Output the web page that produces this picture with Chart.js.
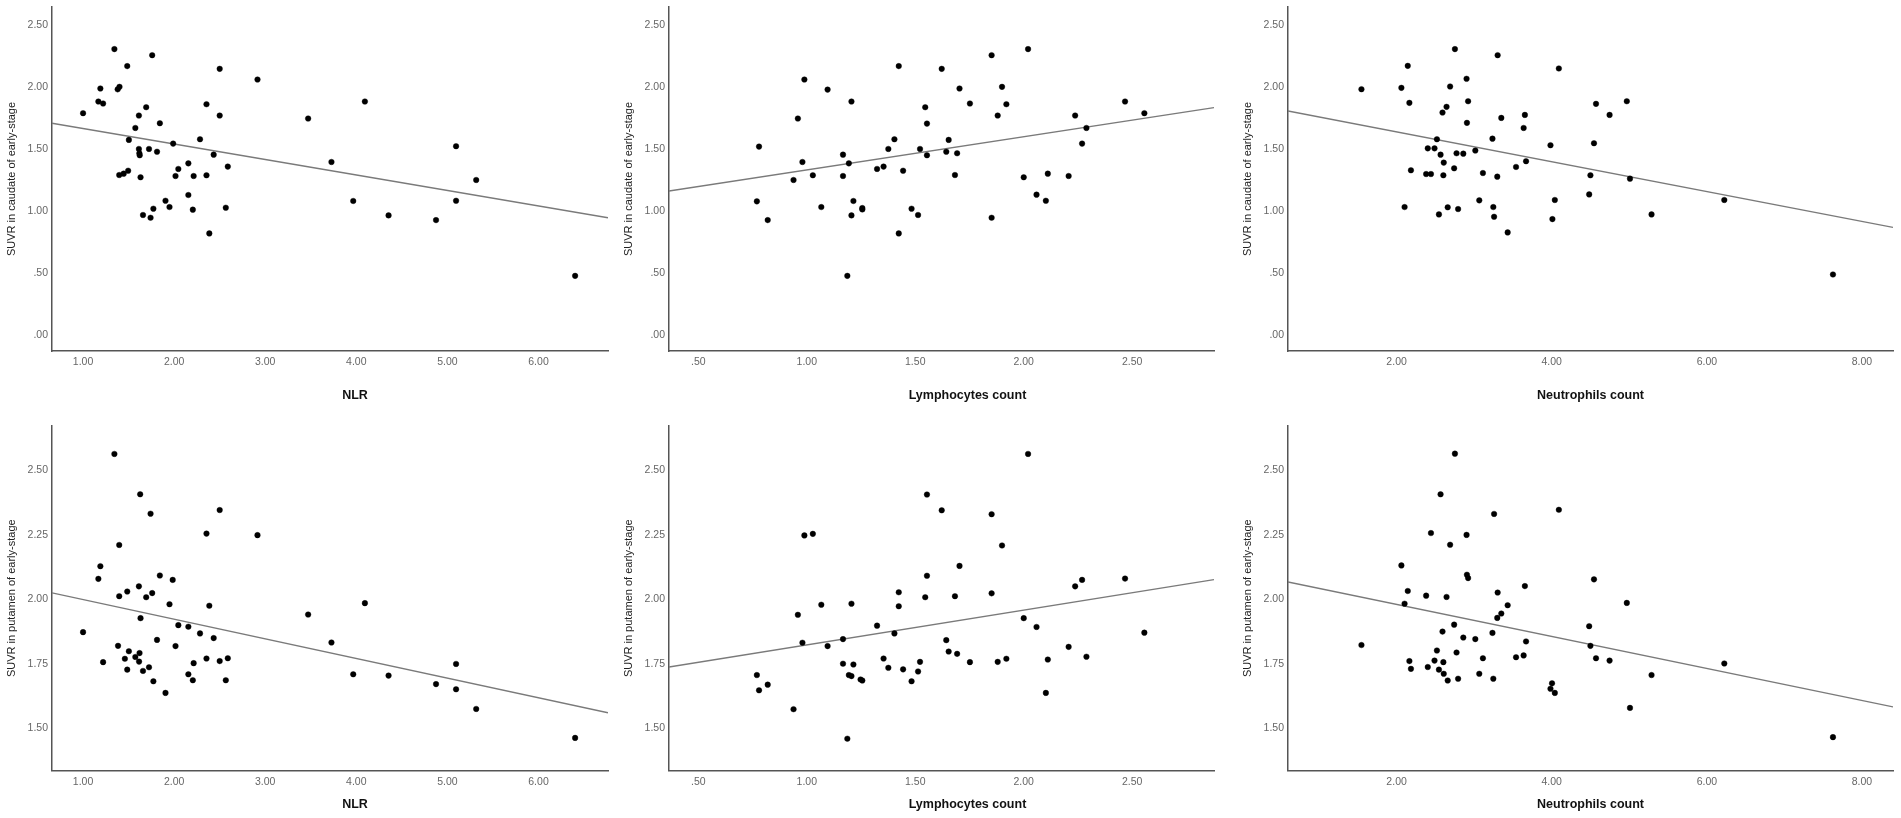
<!DOCTYPE html>
<html>
<head>
<meta charset="utf-8">
<script src="https://cdn.jsdelivr.net/npm/chart.js@4.4.1/dist/chart.umd.min.js"></script>
<style>
html,body{margin:0;padding:0;background:#fff;}
#page{position:relative;width:1901px;height:818px;overflow:hidden;background:#fff;}
.panel{position:absolute;}
.panel canvas{display:block;}
</style>
</head>
<body>
<div id="page"></div>
<script>
// ---------- DATA ----------
const nlrCaudateX = [1.00,1.344,1.759,1.485,2.500,2.915,1.19,1.38,1.40,1.168,1.22,2.355,4.094,1.693,1.613,2.50,3.471,1.843,1.574,1.503,2.284,1.989,1.613,1.724,1.812,1.618,1.622,2.434,5.095,2.156,3.727,2.589,2.046,1.397,1.446,1.495,1.631,2.015,2.214,2.355,5.316,2.156,1.905,3.966,5.095,1.949,1.772,2.205,2.567,1.658,1.741,4.354,4.875,2.386,6.402];
const nlrCaudateY = [1.788,2.304,2.255,2.167,2.145,2.059,1.987,1.98,2.0,1.882,1.866,1.860,1.882,1.836,1.769,1.769,1.745,1.707,1.669,1.573,1.578,1.543,1.500,1.500,1.478,1.465,1.449,1.454,1.522,1.384,1.395,1.358,1.339,1.290,1.301,1.325,1.272,1.282,1.282,1.288,1.250,1.129,1.083,1.081,1.083,1.032,1.019,1.011,1.027,0.968,0.946,0.965,0.927,0.820,0.478];

const lymCaudateX = [0.780,0.770,0.820,0.959,0.989,0.939,0.980,1.028,1.067,1.096,1.167,1.167,1.194,1.206,1.187,1.215,1.206,1.256,1.256,1.324,1.354,1.376,1.404,1.424,1.424,1.444,1.483,1.513,1.522,1.546,1.554,1.554,1.622,1.643,1.654,1.683,1.693,1.704,1.752,1.852,1.852,1.880,1.900,1.920,2.000,2.020,2.059,2.102,2.111,2.207,2.237,2.269,2.289,2.467,2.556];
const lymCaudateY = [1.519,1.078,0.927,1.745,2.059,1.250,1.395,1.288,1.032,1.978,1.454,1.282,1.384,1.882,0.478,1.081,0.965,1.024,1.013,1.339,1.358,1.500,1.578,2.167,0.820,1.325,1.019,0.968,1.500,1.836,1.704,1.449,2.145,1.478,1.573,1.290,1.465,1.987,1.866,2.255,0.946,1.769,2.000,1.860,1.272,2.304,1.132,1.083,1.301,1.282,1.769,1.543,1.669,1.882,1.788];

const neuCaudateX = [1.547,2.062,2.144,2.165,2.103,2.185,2.381,2.443,2.402,2.489,2.520,2.567,2.546,2.592,2.608,2.603,2.644,2.659,2.690,2.742,2.752,2.773,2.793,2.860,2.902,2.907,2.922,3.015,3.066,3.113,3.236,3.247,3.257,3.298,3.303,3.350,3.432,3.540,3.638,3.654,3.669,3.984,4.009,4.040,4.092,4.483,4.499,4.545,4.571,4.746,4.968,5.009,5.287,6.225,7.626];
const neuCaudateY = [1.981,1.992,2.169,1.871,1.032,1.328,1.298,1.298,1.505,1.505,1.578,1.454,0.973,1.793,1.390,1.288,1.839,1.030,2.003,1.344,2.304,1.465,1.016,1.462,2.065,1.710,1.884,1.487,1.086,1.306,1.583,1.032,0.954,1.277,2.255,1.750,0.828,1.355,1.669,1.774,1.401,1.530,0.935,1.089,2.148,1.134,1.288,1.546,1.863,1.774,1.884,1.261,0.973,1.089,0.489];

const nlrPutamenX = [1.00,1.344,1.168,1.19,1.22,1.397,1.384,1.397,1.459,1.485,1.503,1.485,1.574,1.613,1.627,1.62,1.615,1.631,1.658,1.693,1.724,1.741,1.759,1.772,1.812,1.843,1.905,1.949,1.984,2.015,2.046,2.156,2.156,2.205,2.214,2.284,2.355,2.355,2.386,2.434,2.500,2.500,2.567,2.589,2.915,3.471,3.727,3.966,4.094,4.354,4.875,5.095,5.095,5.316,6.402];
const nlrPutamenY = [1.873,2.562,2.079,2.128,1.757,2.210,1.820,2.012,1.770,2.030,1.799,1.728,1.777,2.050,2.406,1.792,1.759,1.927,1.723,2.008,1.737,2.331,2.024,1.683,1.843,2.092,1.638,1.981,2.075,1.819,1.900,1.894,1.710,1.687,1.753,1.868,2.254,1.771,1.975,1.850,2.345,1.761,1.687,1.772,2.248,1.941,1.833,1.710,1.985,1.705,1.672,1.750,1.652,1.576,1.464];

const lymPutamenX = [0.770,0.780,0.820,0.939,0.959,0.980,0.989,1.028,1.067,1.096,1.167,1.167,1.194,1.206,1.187,1.215,1.206,1.256,1.248,1.324,1.354,1.376,1.404,1.424,1.424,1.444,1.483,1.513,1.522,1.546,1.554,1.554,1.622,1.643,1.654,1.683,1.693,1.704,1.752,1.852,1.852,1.880,1.900,1.920,2.000,2.020,2.059,2.102,2.111,2.207,2.237,2.269,2.289,2.467,2.556];
const lymPutamenY = [1.707,1.648,1.670,1.575,1.940,1.832,2.247,2.253,1.979,1.819,1.846,1.751,1.707,1.983,1.461,1.748,1.703,1.686,1.690,1.898,1.771,1.735,1.868,2.027,1.973,1.729,1.683,1.721,1.758,2.008,2.405,2.091,2.344,1.842,1.798,2.012,1.789,2.129,1.757,2.329,2.023,1.758,2.208,1.770,1.927,2.562,1.893,1.638,1.767,1.816,2.050,2.075,1.778,2.080,1.871];

const neuPutamenX = [1.547,2.062,2.103,2.144,2.165,2.185,2.381,2.402,2.443,2.489,2.520,2.546,2.567,2.592,2.603,2.608,2.644,2.659,2.690,2.742,2.752,2.773,2.793,2.860,2.902,2.907,2.922,3.015,3.066,3.113,3.236,3.247,3.257,3.298,3.303,3.350,3.432,3.540,3.638,3.654,3.669,3.984,4.004,4.040,4.092,4.483,4.499,4.545,4.571,4.746,4.968,5.009,5.287,6.225,7.626];
const neuPutamenY = [1.823,2.131,1.983,2.032,1.761,1.731,2.014,1.738,2.256,1.763,1.802,1.728,2.406,1.875,1.757,1.712,2.009,1.686,2.211,1.902,2.563,1.794,1.693,1.852,2.249,2.095,2.082,1.846,1.712,1.772,1.870,1.693,2.330,1.928,2.026,1.945,1.977,1.776,1.783,2.051,1.837,1.654,1.675,1.638,2.346,1.896,1.820,2.077,1.772,1.763,1.986,1.580,1.707,1.752,1.467];

// fit line values (y at the left and right ends of each x axis)
const fitNlrCaudate = [1.707, 0.946];
const fitLymCaudate = [1.161, 1.833];
const fitNeuCaudate = [1.806, 0.868];
const fitNlrPutamen = [2.025, 1.561];
const fitLymPutamen = [1.738, 2.076];
const fitNeuPutamen = [2.067, 1.584];

// axis ranges
const xRangeNlr = [0.659, 6.763];
const xRangeLym = [0.365, 2.877];
const xRangeNeu = [0.60, 8.40];
const yRangeCaudate = [-0.127, 2.643];
const yRangePutamen = [1.338, 2.670];

// tick values
const nlrTicks = [1, 2, 3, 4, 5, 6];
const lymTicks = [0.5, 1, 1.5, 2, 2.5];
const neuTicks = [2, 4, 6, 8];
const caudateTicks = [0, 0.5, 1, 1.5, 2, 2.5];
const putamenTicks = [1.5, 1.75, 2, 2.25, 2.5];

// titles
const xTitleNlr = 'NLR';
const xTitleLym = 'Lymphocytes count';
const xTitleNeu = 'Neutrophils count';
const yTitleCaudate = 'SUVR in caudate of early-stage';
const yTitlePutamen = 'SUVR in putamen of early-stage';

// ---------- LAYOUT ----------
const ROW_H = 409;
const rows = [
  {top: 0, plotTop: 7, plotBottom: 351},
  {top: 409, plotTop: 426, plotBottom: 770.5}
];
const cols = [
  {axL: 52, axR: 608, wy: 52, titleShift: 25},
  {axL: 669, axR: 1214, wy: 52, titleShift: 26},
  {axL: 1288, axR: 1893, wy: 62, titleShift: 0}
];

const panels = [
  {r:0,c:0,xs:nlrCaudateX,ys:nlrCaudateY,fit:fitNlrCaudate,xr:xRangeNlr,yr:yRangeCaudate,xt:nlrTicks,yt:caudateTicks,xTitle:xTitleNlr,yTitle:yTitleCaudate},
  {r:0,c:1,xs:lymCaudateX,ys:lymCaudateY,fit:fitLymCaudate,xr:xRangeLym,yr:yRangeCaudate,xt:lymTicks,yt:caudateTicks,xTitle:xTitleLym,yTitle:yTitleCaudate},
  {r:0,c:2,xs:neuCaudateX,ys:neuCaudateY,fit:fitNeuCaudate,xr:xRangeNeu,yr:yRangeCaudate,xt:neuTicks,yt:caudateTicks,xTitle:xTitleNeu,yTitle:yTitleCaudate},
  {r:1,c:0,xs:nlrPutamenX,ys:nlrPutamenY,fit:fitNlrPutamen,xr:xRangeNlr,yr:yRangePutamen,xt:nlrTicks,yt:putamenTicks,xTitle:xTitleNlr,yTitle:yTitlePutamen},
  {r:1,c:1,xs:lymPutamenX,ys:lymPutamenY,fit:fitLymPutamen,xr:xRangeLym,yr:yRangePutamen,xt:lymTicks,yt:putamenTicks,xTitle:xTitleLym,yTitle:yTitlePutamen},
  {r:1,c:2,xs:neuPutamenX,ys:neuPutamenY,fit:fitNeuPutamen,xr:xRangeNeu,yr:yRangePutamen,xt:neuTicks,yt:putamenTicks,xTitle:xTitleNeu,yTitle:yTitlePutamen}
];

const FONT = '"Liberation Sans", Arial, Helvetica, sans-serif';
const RIGHT_PAD = 6;

function fmt(v) {
  let s = Number(v).toFixed(2);
  if (s.startsWith('0')) s = s.slice(1);
  return s;
}

// shifts the x-axis title horizontally (the reference titles are not centred on the visible axis)
const shiftTitlePlugin = {
  id: 'shiftTitle',
  beforeDraw(chart, args, opts) {
    const sc = chart.scales.x;
    if (!sc || sc._shiftPatched) return;
    const dx = (opts && opts.dx) || 0;
    const orig = sc.drawTitle;
    sc.drawTitle = function () {
      const l = this.left, r = this.right;
      this.left = l + dx; this.right = r + dx;
      try { orig.call(this); } finally { this.left = l; this.right = r; }
    };
    sc._shiftPatched = true;
  }
};

const page = document.getElementById('page');

panels.forEach(p => {
  const row = rows[p.r], col = cols[p.c];
  const div = document.createElement('div');
  div.className = 'panel';
  const w = col.axR - col.axL + col.wy + RIGHT_PAD;
  div.style.left = (col.axL - col.wy) + 'px';
  div.style.top = row.top + 'px';
  div.style.width = w + 'px';
  div.style.height = ROW_H + 'px';
  const cv = document.createElement('canvas');
  div.appendChild(cv);
  page.appendChild(div);

  const xScaleH = row.top + ROW_H - row.plotBottom;
  const yTitlePad = col.wy - 52 + 5.4;

  new Chart(cv, {
    type: 'scatter',
    plugins: [shiftTitlePlugin],
    data: {
      datasets: [
        {
          data: p.xs.map((x, i) => ({x: x, y: p.ys[i]})),
          pointRadius: 2.8,
          pointHoverRadius: 2.8,
          pointBackgroundColor: '#000',
          pointBorderColor: '#000',
          pointBorderWidth: 0.4,
          showLine: false,
          order: 0
        },
        {
          data: [{x: p.xr[0], y: p.fit[0]}, {x: p.xr[1], y: p.fit[1]}],
          showLine: true,
          borderColor: '#7a7a7a',
          borderWidth: 1.4,
          pointRadius: 0,
          pointHoverRadius: 0,
          fill: false,
          order: 1
        }
      ]
    },
    options: {
      responsive: true,
      maintainAspectRatio: false,
      animation: false,
      events: [],
      layout: {padding: {left: 0, right: RIGHT_PAD, top: row.plotTop - row.top, bottom: 0}},
      plugins: {legend: {display: false}, tooltip: {enabled: false}, shiftTitle: {dx: col.titleShift}},
      scales: {
        x: {
          type: 'linear',
          min: p.xr[0],
          max: p.xr[1],
          afterBuildTicks: s => { s.ticks = p.xt.map(v => ({value: v})); },
          afterFit: s => { s.height = xScaleH; s.paddingLeft = 0; s.paddingRight = 0; },
          ticks: {
            callback: v => fmt(v),
            font: {family: FONT, size: 10.5},
            color: '#666',
            padding: 5,
            maxRotation: 0,
            autoSkip: false
          },
          grid: {display: false, drawTicks: false},
          border: {display: true, color: '#555', width: 1.5},
          title: {
            display: true,
            text: p.xTitle,
            font: {family: FONT, size: 12.5, weight: 'bold'},
            color: '#111',
            padding: {top: 0, bottom: 6}
          }
        },
        y: {
          type: 'linear',
          min: p.yr[0],
          max: p.yr[1],
          afterBuildTicks: s => { s.ticks = p.yt.map(v => ({value: v})); },
          afterFit: s => { s.width = col.wy; s.paddingTop = 0; s.paddingBottom = 0; },
          ticks: {
            callback: v => fmt(v),
            font: {family: FONT, size: 10.5},
            color: '#666',
            padding: 4,
            autoSkip: false
          },
          grid: {display: false, drawTicks: false},
          border: {display: true, color: '#555', width: 1.5},
          title: {
            display: true,
            text: p.yTitle,
            font: {family: FONT, size: 11},
            color: '#222',
            padding: {top: yTitlePad, bottom: 0}
          }
        }
      }
    }
  });
});
</script>
</body>
</html>
